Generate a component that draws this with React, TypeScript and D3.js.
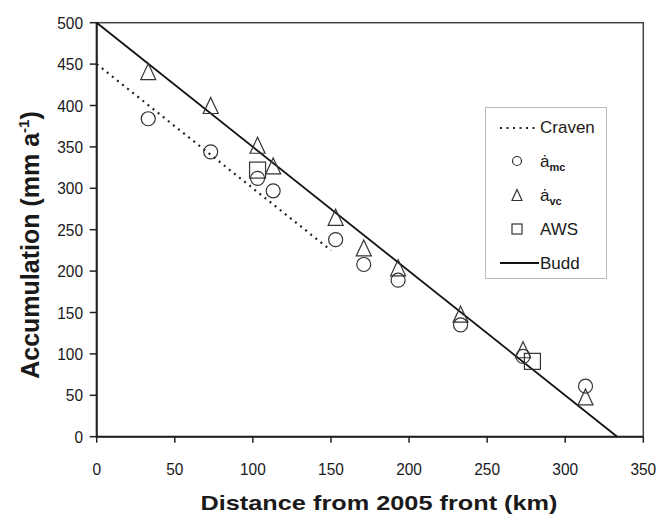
import React from "react";
import * as d3 from "d3";

const xTicks = [0, 50, 100, 150, 200, 250, 300, 350];
const yTicks = [0, 50, 100, 150, 200, 250, 300, 350, 400, 450, 500];

const mcX = [33, 73, 103, 113, 153, 171, 193, 233, 273, 313];
const mcY = [384, 344, 312, 297, 238, 208, 189, 135, 97, 61];

const vcX = [33, 73, 103, 113, 153, 171, 193, 233, 273, 313];
const vcY = [441, 400, 352, 327, 265, 228, 204, 148, 105, 48];

const awsX = [103, 279];
const awsY = [322, 91];

const cravenX = [0, 150];
const cravenY = [450, 225];

const buddX = [0, 333.3];
const buddY = [500, 0];

const FONT = "'Liberation Sans', Arial, sans-serif";

function tri(cx: number, cy: number, w: number, h: number) {
  return `M${cx},${cy - h / 2}L${cx + w / 2},${cy + h / 2}L${cx - w / 2},${cy + h / 2}Z`;
}

export default function App() {
  const W = 659, H = 520;
  const x = d3.scaleLinear().domain([0, 350]).range([96.7, 643.3]);
  const y = d3.scaleLinear().domain([0, 500]).range([436.7, 22.7]);
  const line = d3.line<[number, number]>().x(d => x(d[0])).y(d => y(d[1]));
  const craven = line(cravenX.map((v, i) => [v, cravenY[i]]));
  const budd = line(buddX.map((v, i) => [v, buddY[i]]));
  const mk = "#333";
  const txt = "#1a1a1a";

  const lx = 485.5, ly = 107.5, lw = 121, lh = 171;
  const rows = [127, 161, 195, 229, 263];

  return (
    <svg width={W} height={H} style={{ position: "absolute", left: 0, top: 0, background: "#fff" }} fontFamily={FONT}>
      <rect x={0} y={0} width={W} height={H} fill="#fff" />
      {/* frame */}
      <rect x={x(0)} y={y(500)} width={x(350) - x(0)} height={y(0) - y(500)} fill="none" stroke="#444" strokeWidth={1.5} />
      {/* y axis */}
      <line x1={x(0)} x2={x(0)} y1={y(0)} y2={y(500)} stroke="#222" strokeWidth={2} />
      {yTicks.map(t => (
        <g key={"y" + t}>
          <line x1={x(0) - 7} x2={x(0)} y1={y(t)} y2={y(t)} stroke="#222" strokeWidth={1.5} />
          <text x={83} y={y(t)} dy="0.36em" textAnchor="end" fontSize={17} fill={txt}
            textLength={String(t).length * 8.6} lengthAdjust="spacingAndGlyphs">{t}</text>
        </g>
      ))}
      {/* x axis */}
      <line x1={x(0)} x2={x(350)} y1={y(0)} y2={y(0)} stroke="#222" strokeWidth={2} />
      {xTicks.map(t => (
        <g key={"x" + t}>
          <line x1={x(t)} x2={x(t)} y1={y(0)} y2={y(0) + 6} stroke="#222" strokeWidth={1.5} />
          <text x={x(t)} y={475} textAnchor="middle" fontSize={17} fill={txt}
            textLength={String(t).length * 8.6} lengthAdjust="spacingAndGlyphs">{t}</text>
        </g>
      ))}
      {/* lines */}
      <path d={budd || ""} fill="none" stroke="#111" strokeWidth={1.8} />
      <path d={craven || ""} fill="none" stroke="#222" strokeWidth={2.2} strokeDasharray="2,4.5" />
      {/* markers */}
      {mcX.map((v, i) => (
        <circle key={"c" + i} cx={x(v)} cy={y(mcY[i])} r={7} fill="none" stroke={mk} strokeWidth={1.2} />
      ))}
      {vcX.map((v, i) => (
        <path key={"t" + i} d={tri(x(v), y(vcY[i]), 15, 16)} fill="none" stroke={mk} strokeWidth={1.2} />
      ))}
      {awsX.map((v, i) => (
        <rect key={"s" + i} x={x(v) - 8} y={y(awsY[i]) - 8} width={16} height={16} fill="none" stroke={mk} strokeWidth={1.2} />
      ))}
      {/* legend */}
      <rect x={lx} y={ly} width={lw} height={lh} fill="#fff" stroke="#bbb" strokeWidth={1} />
      <line x1={500} x2={539} y1={rows[0] + 1} y2={rows[0] + 1} stroke="#222" strokeWidth={2} strokeDasharray="2,4.5" />
      <text x={540} y={rows[0]} dy="0.36em" fontSize={17} fill={txt}>Craven</text>
      <circle cx={517} cy={rows[1]} r={4.5} fill="none" stroke={mk} strokeWidth={1.2} />
      <text x={540} y={rows[1]} dy="0.36em" fontSize={17} fill={txt}>ȧ<tspan fontSize={11} dy="4" fontWeight="bold">mc</tspan></text>
      <path d={tri(517, rows[2], 10, 11)} fill="none" stroke={mk} strokeWidth={1.2} />
      <text x={540} y={rows[2]} dy="0.36em" fontSize={17} fill={txt}>ȧ<tspan fontSize={11} dy="4" fontWeight="bold">vc</tspan></text>
      <rect x={512} y={rows[3] - 5} width={10} height={10} fill="none" stroke={mk} strokeWidth={1.2} />
      <text x={540} y={rows[3]} dy="0.36em" fontSize={17} fill={txt}>AWS</text>
      <line x1={500} x2={539} y1={rows[4]} y2={rows[4]} stroke="#111" strokeWidth={2} />
      <text x={540} y={rows[4]} dy="0.36em" fontSize={17} fill={txt}>Budd</text>
      {/* axis titles */}
      <text x={379} y={510} textAnchor="middle" fontSize={21} fontWeight="bold" fill={txt}
        textLength={357} lengthAdjust="spacingAndGlyphs">Distance from 2005 front (km)</text>
      <text transform={`translate(39,${245}) rotate(-90)`} textAnchor="middle" fontSize={25} fontWeight="bold" fill={txt}>
        Accumulation (mm a<tspan fontSize={15} dy="-10">-1</tspan><tspan dy="10">)</tspan>
      </text>
    </svg>
  );
}
